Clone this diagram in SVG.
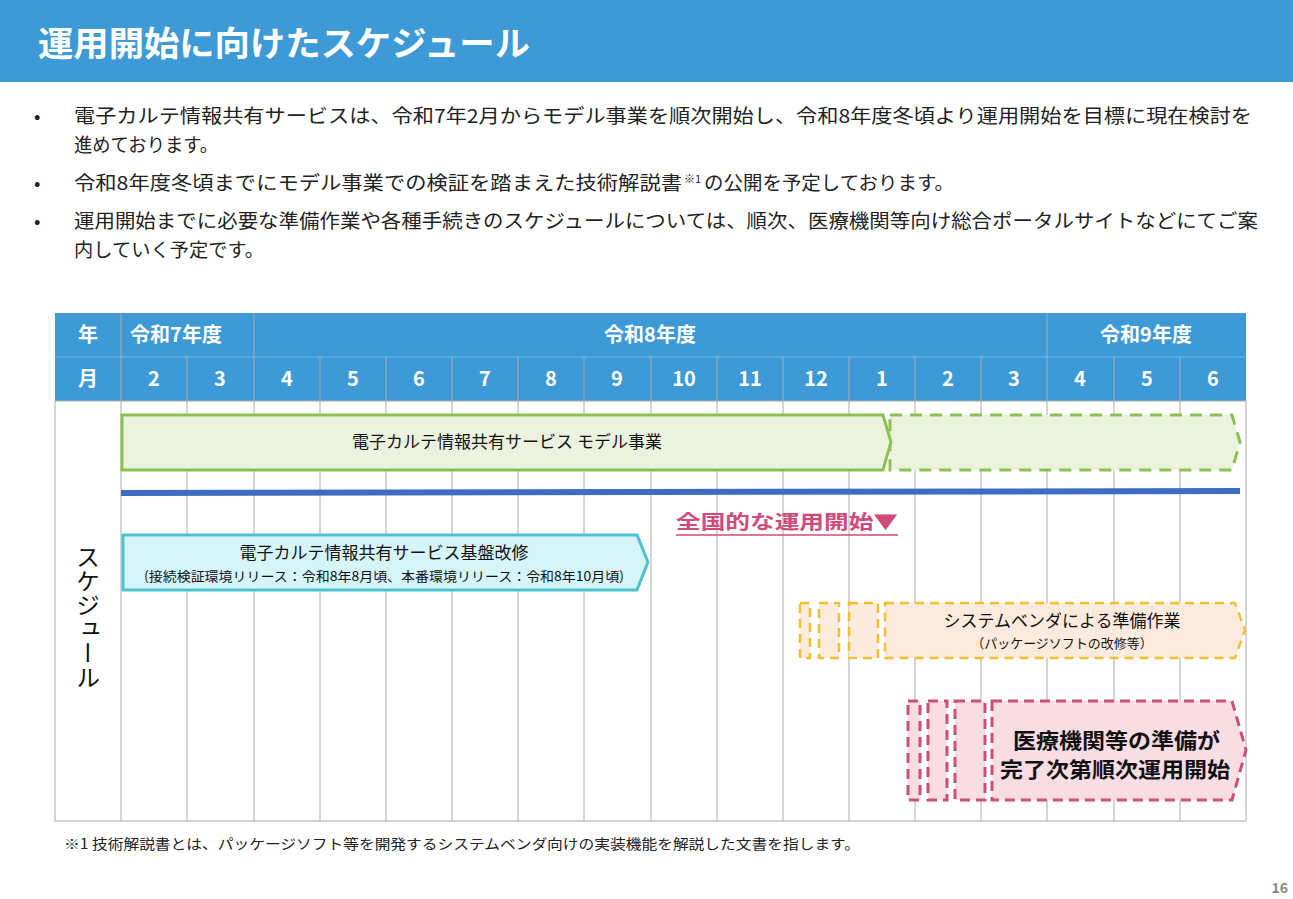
<svg xmlns="http://www.w3.org/2000/svg" width="1293" height="899" viewBox="0 0 1293 899">
<style>
text{font-family:"Noto Sans CJK JP","Noto Sans",sans-serif;}
.hd{fill:#fff;font-weight:bold;font-size:20px;text-anchor:middle;}
.body{font-size:19px;fill:#222;}
.grid{stroke:#aaa;stroke-width:1;}
.lbl{font-size:17px;fill:#111;text-anchor:middle;}
.sub{font-size:13px;fill:#111;text-anchor:middle;}
</style>
<rect width="1293" height="899" fill="#fff"/>
<rect x="0" y="0" width="1293" height="82" fill="#3E9AD6"/>
<text x="38" y="56" font-size="34" font-weight="bold" fill="#fff" textLength="492" lengthAdjust="spacingAndGlyphs">運用開始に向けたスケジュール</text>
<g class="body">
<text x="34" y="123">•</text><text x="74" y="123" textLength="1178" lengthAdjust="spacingAndGlyphs">電子カルテ情報共有サービスは、令和7年2月からモデル事業を順次開始し、令和8年度冬頃より運用開始を目標に現在検討を</text>
<text x="74" y="152" textLength="144" lengthAdjust="spacingAndGlyphs">進めております。</text>
<text x="34" y="190">•</text><text x="74" y="190" textLength="608" lengthAdjust="spacingAndGlyphs">令和8年度冬頃までにモデル事業での検証を踏まえた技術解説書</text><text x="684" y="183" font-size="11">※1</text><text x="704" y="190" textLength="250" lengthAdjust="spacingAndGlyphs">の公開を予定しております。</text>
<text x="34" y="228">•</text><text x="74" y="228" textLength="1184" lengthAdjust="spacingAndGlyphs">運用開始までに必要な準備作業や各種手続きのスケジュールについては、順次、医療機関等向け総合ポータルサイトなどにてご案</text>
<text x="74" y="257" textLength="190" lengthAdjust="spacingAndGlyphs">内していく予定です。</text>
</g>
<g id="table">
<rect x="55" y="313" width="1191" height="88" fill="#3E9AD6"/>
<line x1="55" y1="357" x2="1246" y2="357" stroke="#6fb3e3"/>
<rect x="55" y="401" width="1191" height="420" fill="#fff" stroke="#aaa"/>
<g class="grid">
<line x1="121" y1="313" x2="121" y2="821"/>
<line x1="187" y1="357" x2="187" y2="821"/>
<line x1="254" y1="313" x2="254" y2="821"/>
<line x1="320" y1="357" x2="320" y2="821"/>
<line x1="386" y1="357" x2="386" y2="821"/>
<line x1="452" y1="357" x2="452" y2="821"/>
<line x1="518" y1="357" x2="518" y2="821"/>
<line x1="584" y1="357" x2="584" y2="821"/>
<line x1="651" y1="357" x2="651" y2="821"/>
<line x1="717" y1="357" x2="717" y2="821"/>
<line x1="783" y1="357" x2="783" y2="821"/>
<line x1="849" y1="357" x2="849" y2="821"/>
<line x1="915" y1="357" x2="915" y2="821"/>
<line x1="981" y1="357" x2="981" y2="821"/>
<line x1="1047" y1="313" x2="1047" y2="821"/>
<line x1="1114" y1="357" x2="1114" y2="821"/>
<line x1="1180" y1="357" x2="1180" y2="821"/>
</g>
<g class="hd">
<text x="88" y="342">年</text><text x="176" y="342">令和7年度</text><text x="650" y="342">令和8年度</text><text x="1146" y="342">令和9年度</text>
<text x="88" y="386">月</text>
<text x="154" y="386">2</text><text x="220" y="386">3</text><text x="287" y="386">4</text><text x="353" y="386">5</text><text x="419" y="386">6</text><text x="485" y="386">7</text><text x="551" y="386">8</text><text x="617" y="386">9</text><text x="684" y="386">10</text><text x="750" y="386">11</text><text x="816" y="386">12</text><text x="882" y="386">1</text><text x="948" y="386">2</text><text x="1014" y="386">3</text><text x="1080" y="386">4</text><text x="1147" y="386">5</text><text x="1213" y="386">6</text>
</g>
<text x="88" y="545" font-size="24" fill="#111" style="writing-mode:vertical-rl">スケジュール</text>
</g>
<g id="model">
<path d="M890,415 L1232,415 L1240,442 L1232,470 L890,470 Z" fill="#EBF3DE" stroke="#8CC152" stroke-width="3" stroke-dasharray="12,8"/>
<path d="M122,415 L883,415 L891,442 L883,470 L122,470 Z" fill="#EBF3DE" stroke="#8CC152" stroke-width="3"/>
<text class="lbl" x="507" y="448">電子カルテ情報共有サービス モデル事業</text>
</g>
<line x1="121" y1="493" x2="1240" y2="491" stroke="#3D6CC0" stroke-width="6"/>
<g id="start">
<text x="676" y="529" font-size="19" font-weight="bold" fill="#D04A7A" textLength="222" lengthAdjust="spacingAndGlyphs">全国的な運用開始▼</text>
<line x1="676" y1="535" x2="898" y2="535" stroke="#D04A7A" stroke-width="1.5"/>
</g>
<g id="base">
<path d="M123,535 L637,535 L648,562 L637,590 L123,590 Z" fill="#D5F5F8" stroke="#4DC3CF" stroke-width="3"/>
<text class="lbl" x="384" y="559">電子カルテ情報共有サービス基盤改修</text>
<text class="sub" x="384" y="581" textLength="480" lengthAdjust="spacingAndGlyphs">(接続検証環境リリース：令和8年8月頃、本番環境リリース：令和8年10月頃)</text>
</g>
<g id="vendor" fill="#FCEBDC" stroke="#F0C030" stroke-width="2.5" stroke-dasharray="9,6">
<rect x="800" y="603" width="10" height="55"/>
<rect x="819" y="603" width="20" height="55"/>
<rect x="849" y="603" width="29" height="55"/>
<path d="M885,603 L1235,603 L1245,630 L1235,658 L885,658 Z"/>
<text class="lbl" x="1062" y="627" stroke="none">システムベンダによる準備作業</text>
<text class="sub" x="1062" y="648" stroke="none">（パッケージソフトの改修等）</text>
</g>
<g id="medical" fill="#F8DDE4" stroke="#CE4F76" stroke-width="3" stroke-dasharray="10,6">
<rect x="908" y="701" width="12" height="99"/>
<rect x="928" y="701" width="19" height="99"/>
<rect x="955" y="701" width="30" height="99"/>
<path d="M992,701 L1232,701 L1246,750 L1232,800 L992,800 Z"/>
<text x="1013" y="748" font-size="21" font-weight="bold" fill="#111" stroke="none" textLength="207" lengthAdjust="spacingAndGlyphs">医療機関等の準備が</text>
<text x="1000" y="777" font-size="21" font-weight="bold" fill="#111" stroke="none" textLength="230" lengthAdjust="spacingAndGlyphs">完了次第順次運用開始</text>
</g>
<text x="64" y="849" font-size="14" fill="#222" textLength="796" lengthAdjust="spacingAndGlyphs">※1 技術解説書とは、パッケージソフト等を開発するシステムベンダ向けの実装機能を解説した文書を指します。</text>
<text x="1288" y="893" font-size="14" font-weight="bold" fill="#888" text-anchor="end">16</text>
</svg>
